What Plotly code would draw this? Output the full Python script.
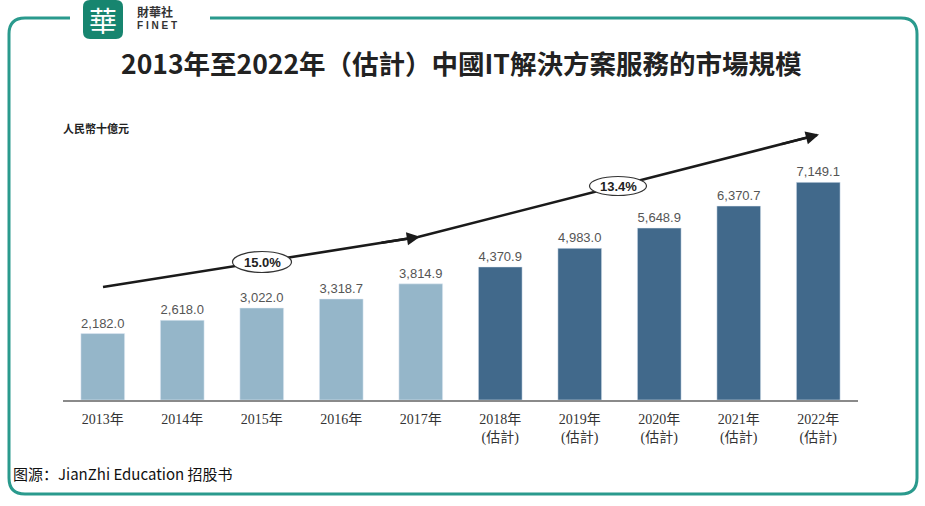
import plotly.graph_objects as go

years = ["2013年", "2014年", "2015年", "2016年", "2017年",
         "2018年", "2019年", "2020年", "2021年", "2022年"]
estimated = [False, False, False, False, False, True, True, True, True, True]
values = [2182.0, 2618.0, 3022.0, 3318.7, 3814.9, 4370.9, 4983.0, 5648.9, 6370.7, 7149.1]
cagr_labels = ["15.0%", "13.4%"]

tick_text = [y + ("<br>(估計)" if e else "") for y, e in zip(years, estimated)]
colors = ["#41698b" if e else "#95b6c9" for e in estimated]
xs = list(range(len(years)))

W, H = 925, 506
L, R, T, B = 63, 858, 126, 400
YMAX = 9000


def px(x):
    return (x - L) / (R - L)


def py(y):
    return (B - y) / (B - T)


def dx(x):
    return (x - L) / ((R - L) / len(years)) - 0.5


def dy(y):
    return (B - y) / (B - T) * YMAX


fig = go.Figure()
fig.add_trace(go.Bar(
    x=xs, y=values, marker_color=colors, width=0.55,
    text=[f"{v:,.1f}" for v in values], textposition="outside",
    textfont=dict(family="Liberation Sans, Arial", size=13, color="#555555"),
    cliponaxis=False, hoverinfo="skip", showlegend=False,
))

# trend arrow polyline
arrow_x = [dx(103), dx(418), dx(817)]
arrow_y = [dy(287), dy(237), dy(135)]
fig.add_trace(go.Scatter(
    x=arrow_x, y=arrow_y, mode="lines",
    line=dict(color="#1a1a1a", width=2.6), hoverinfo="skip", showlegend=False,
))

annotations = []
shapes = []
# arrowheads
for (x0, y0, x1, y1) in [(dx(380), dy(243), dx(420), dy(236.7)), (dx(780), dy(144.5), dx(819), dy(134.5))]:
    annotations.append(dict(x=x1, y=y1, ax=x0, ay=y0, xref="x", yref="y", axref="x", ayref="y",
                            text="", showarrow=True, arrowhead=2, arrowsize=1.1, arrowwidth=2.4,
                            arrowcolor="#1a1a1a"))

# CAGR ellipses
for label, (cx, cy, hw, hh) in zip(cagr_labels, [(262, 262, 29.5, 10.5), (618, 186, 28.5, 9.5)]):
    shapes.append(dict(type="circle", xref="x", yref="y",
                       x0=dx(cx - hw), x1=dx(cx + hw), y0=dy(cy + hh), y1=dy(cy - hh),
                       fillcolor="white", line=dict(color="#333333", width=1.2), layer="above"))
    annotations.append(dict(x=dx(cx), y=dy(cy), xref="x", yref="y", text=f"<b>{label}</b>",
                            showarrow=False, xanchor="center", yanchor="middle",
                            font=dict(family="Liberation Sans, Arial", size=13, color="#222")))

# frame
fl, fr, ft, fb, rad = 9, 917, 18, 494, 16
path = (f"M {px(70)},{py(ft)} L {px(fl+rad)},{py(ft)} Q {px(fl)},{py(ft)} {px(fl)},{py(ft+rad)} "
        f"L {px(fl)},{py(fb-rad)} Q {px(fl)},{py(fb)} {px(fl+rad)},{py(fb)} "
        f"L {px(fr-rad)},{py(fb)} Q {px(fr)},{py(fb)} {px(fr)},{py(fb-rad)} "
        f"L {px(fr)},{py(ft+rad)} Q {px(fr)},{py(ft)} {px(fr-rad)},{py(ft)} L {px(210)},{py(ft)}")
shapes.append(dict(type="path", xref="paper", yref="paper", path=path,
                   line=dict(color="#2a9a8d", width=3)))

# logo
lx0, lx1, ly0, ly1, lr = 83, 123, 0, 39, 7
lpath = (f"M {px(lx0+lr)},{py(ly0)} L {px(lx1-lr)},{py(ly0)} Q {px(lx1)},{py(ly0)} {px(lx1)},{py(ly0+lr)} "
         f"L {px(lx1)},{py(ly1-lr)} Q {px(lx1)},{py(ly1)} {px(lx1-lr)},{py(ly1)} "
         f"L {px(lx0+lr)},{py(ly1)} Q {px(lx0)},{py(ly1)} {px(lx0)},{py(ly1-lr)} "
         f"L {px(lx0)},{py(ly0+lr)} Q {px(lx0)},{py(ly0)} {px(lx0+lr)},{py(ly0)} Z")
shapes.append(dict(type="path", xref="paper", yref="paper", path=lpath,
                   fillcolor="#17856f", line=dict(width=0), layer="below"))


def text_at(x, y, text, size, family, color="#222", xanchor="center"):
    annotations.append(dict(x=px(x), y=py(y), xref="paper", yref="paper", text=text,
                            showarrow=False, xanchor=xanchor, yanchor="middle",
                            font=dict(family=family, size=size, color=color)))


text_at(103, 20, "華", 28, "Noto Sans CJK TC", color="white")
text_at(135, 11, "<b>財華社</b>", 12, "Noto Sans CJK TC", color="#333", xanchor="left")
text_at(135, 25, "<b>F I N E T</b>", 10, "Liberation Sans, Arial", color="#333", xanchor="left")

# title
text_at(461, 62, "<b>2013年至2022年（估計）中國IT解決方案服務的市場規模</b>", 26.5, "Noto Sans CJK TC")
# unit
text_at(61, 128, "<b>人民幣十億元</b>", 11, "Noto Sans CJK TC", xanchor="left")
# source
text_at(11, 473, "图源：JianZhi Education 招股书", 15, "Noto Sans CJK SC", color="#111", xanchor="left")

fig.update_layout(
    width=W, height=H, margin=dict(l=L, r=W - R, t=T, b=H - B),
    paper_bgcolor="white", plot_bgcolor="white",
    xaxis=dict(tickmode="array", tickvals=xs, ticktext=tick_text, range=[-0.5, len(years) - 0.5],
               showline=True, linecolor="#8a8a8a", linewidth=2, showgrid=False, zeroline=False,
               ticks="", ticklabelstandoff=5,
               tickfont=dict(family="Liberation Serif, Noto Sans CJK TC", size=14, color="#333"),
               fixedrange=True),
    yaxis=dict(range=[0, YMAX], visible=False, showgrid=False, zeroline=False, fixedrange=True),
    shapes=shapes, annotations=annotations, bargap=0.45,
)

fig.write_html("out.html", config={"displayModeBar": False},
               post_script="document.body.style.margin='0px';")
